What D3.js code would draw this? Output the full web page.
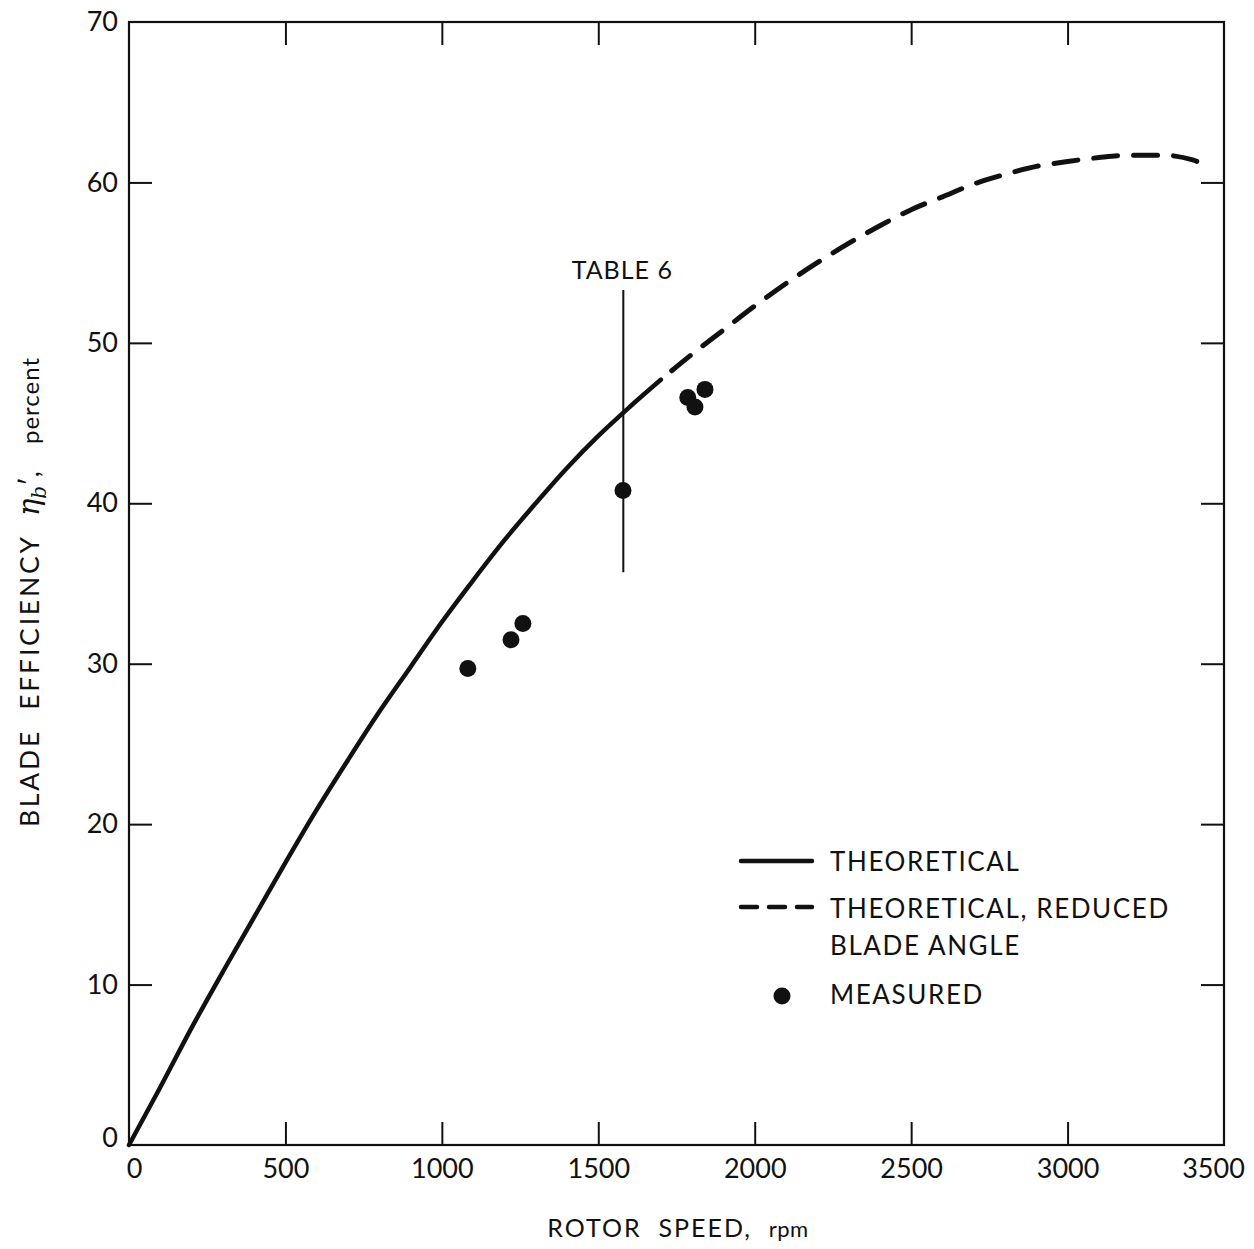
<!DOCTYPE html>
<html>
<head>
<meta charset="utf-8">
<script src="https://cdn.jsdelivr.net/npm/d3@7"></script>
<style>
  html, body { margin: 0; padding: 0; background: #fff; }
  svg { display: block; }
  text { font-family: Lato, "Open Sans", sans-serif; fill: #111; white-space: pre; }
</style>
</head>
<body>
<svg id="chart" width="1254" height="1249"></svg>
<script>
// ---- data ----
const xTicks = [0, 500, 1000, 1500, 2000, 2500, 3000, 3500];
const yTicks = [0, 10, 20, 30, 40, 50, 60, 70];

const theoRpm = [0, 100, 200, 300, 400, 500, 600, 700, 800, 900, 1000, 1100, 1200, 1300, 1400, 1500, 1600, 1700];
const theoEff = [0, 3.6, 7.3, 10.8, 14.2, 17.6, 20.9, 24.0, 27.0, 29.8, 32.6, 35.2, 37.7, 40.0, 42.2, 44.2, 46.0, 47.7];

const reducedRpm = [1700, 1800, 1900, 2000, 2100, 2200, 2300, 2400, 2500, 2600, 2700, 2800, 2900, 3000, 3100, 3200, 3300, 3400, 3440];
const reducedEff = [47.7, 49.3, 50.8, 52.3, 53.7, 55.0, 56.2, 57.3, 58.3, 59.1, 59.9, 60.5, 61.0, 61.3, 61.55, 61.7, 61.7, 61.4, 61.1];

const measRpm = [1083, 1221, 1259, 1579, 1786, 1809, 1841];
const measEff = [29.7, 31.5, 32.5, 40.8, 46.6, 46.0, 47.1];

const table6Rpm = 1580;
const table6Range = [35.7, 53.3];

// ---- layout ----
const svg = d3.select("#chart");
const x = d3.scaleLinear().domain([0, 3500]).range([129, 1224]);
const y = d3.scaleLinear().domain([0, 70]).range([1145, 22]);
const tickLen = 23;

// frame
svg.append("rect")
  .attr("x", x(0)).attr("y", y(70))
  .attr("width", x(3500) - x(0)).attr("height", y(0) - y(70))
  .attr("fill", "none").attr("stroke", "#111").attr("stroke-width", 2.2);

// axes with inward ticks
const fontTick = 27;
const bottomAxis = d3.axisBottom(x).tickValues(xTicks).tickSize(-tickLen).tickPadding(14).tickFormat(d3.format("d"));
const topAxis = d3.axisTop(x).tickValues(xTicks.slice(1, -1)).tickSize(-tickLen).tickFormat("");
const leftAxis = d3.axisLeft(y).tickValues(yTicks).tickSize(-tickLen).tickPadding(11).tickFormat(d3.format("d"));
const rightAxis = d3.axisRight(y).tickValues(yTicks.slice(1, -1)).tickSize(-tickLen).tickFormat("");

function style(g) {
  g.select(".domain").remove();
  g.selectAll(".tick line").attr("stroke", "#111").attr("stroke-width", 2);
  g.selectAll(".tick text").attr("font-size", fontTick).attr("fill", "#111")
    .style("font-family", "Lato, 'Open Sans', sans-serif");
}
const gB = svg.append("g").attr("transform", `translate(0,${y(0)})`).call(bottomAxis).call(style);
gB.selectAll(".tick line").filter(d => d === 0 || d === 3500).remove();
gB.selectAll(".tick text").filter(d => d === 3500).attr("dx", -11);
gB.selectAll(".tick text").filter(d => d === 0).attr("dx", 5);
const gL = svg.append("g").attr("transform", `translate(${x(0)},0)`).call(leftAxis).call(style);
gL.selectAll(".tick line").filter(d => d === 0 || d === 70).remove();
gL.selectAll(".tick text").filter(d => d === 0).attr("dy", "0.05em");
svg.append("g").attr("transform", `translate(0,${y(70)})`).call(topAxis).call(style);
svg.append("g").attr("transform", `translate(${x(3500)},0)`).call(rightAxis).call(style);

// curves
const line = d3.line().x(d => x(d[0])).y(d => y(d[1])).curve(d3.curveMonotoneX);
svg.append("path")
  .datum(theoRpm.map((r, i) => [r, theoEff[i]]))
  .attr("d", line).attr("fill", "none").attr("stroke", "#111")
  .attr("stroke-width", 4.5).attr("stroke-linecap", "round");
svg.append("path")
  .datum(reducedRpm.map((r, i) => [r, reducedEff[i]]))
  .attr("d", line).attr("fill", "none").attr("stroke", "#111")
  .attr("stroke-width", 5).attr("stroke-linecap", "round")
  .attr("stroke-dasharray", "24 16").attr("stroke-dashoffset", -14);

// TABLE 6 marker line
svg.append("line")
  .attr("x1", x(table6Rpm)).attr("x2", x(table6Rpm))
  .attr("y1", y(table6Range[1])).attr("y2", y(table6Range[0]))
  .attr("stroke", "#111").attr("stroke-width", 2);
svg.append("text")
  .attr("x", x(table6Rpm) - 1).attr("y", y(table6Range[1]) - 11)
  .attr("text-anchor", "middle").attr("font-size", 25)
  .style("letter-spacing", "1px")
  .text("TABLE 6");

// measured points
svg.append("g").selectAll("circle")
  .data(measRpm.map((r, i) => [r, measEff[i]]))
  .join("circle")
  .attr("cx", d => x(d[0])).attr("cy", d => y(d[1]))
  .attr("r", 8.5).attr("fill", "#111");

// legend
const lg = svg.append("g");
const legFs = 26;
lg.append("line").attr("x1", 741).attr("x2", 812).attr("y1", 861).attr("y2", 861)
  .attr("stroke", "#111").attr("stroke-width", 4.5).attr("stroke-linecap", "round");
lg.append("text").attr("x", 830).attr("y", 871).attr("font-size", legFs)
  .style("letter-spacing", "1.6px").text("THEORETICAL");
lg.append("line").attr("x1", 741).attr("x2", 812).attr("y1", 907).attr("y2", 907)
  .attr("stroke", "#111").attr("stroke-width", 4.5).attr("stroke-linecap", "round")
  .attr("stroke-dasharray", "16 12");
lg.append("text").attr("x", 830).attr("y", 918).attr("font-size", legFs)
  .style("letter-spacing", "1.6px").text("THEORETICAL, REDUCED");
lg.append("text").attr("x", 830).attr("y", 955).attr("font-size", legFs)
  .style("letter-spacing", "1.6px").text("BLADE ANGLE");
lg.append("circle").attr("cx", 782).attr("cy", 996).attr("r", 8.5).attr("fill", "#111");
lg.append("text").attr("x", 830).attr("y", 1004).attr("font-size", legFs)
  .style("letter-spacing", "1.6px").text("MEASURED");

// x axis title
const xt = svg.append("text").attr("x", 678).attr("y", 1237).attr("text-anchor", "middle")
  .attr("font-size", 25).style("letter-spacing", "2px");
xt.append("tspan").text("ROTOR  SPEED,  ");
xt.append("tspan").attr("font-size", 22).style("letter-spacing", "0.5px").text("rpm");

// y axis title
const yt = svg.append("text").attr("transform", "translate(39,592) rotate(-90)")
  .attr("text-anchor", "middle").attr("font-size", 26.5).style("letter-spacing", "2.8px");
yt.append("tspan").text("BLADE  EFFICIENCY  ");
yt.append("tspan").attr("font-style", "italic").attr("font-family", "'DejaVu Serif', serif")
  .attr("font-size", 29).style("letter-spacing", "0px").text("η");
yt.append("tspan").attr("font-style", "italic").attr("font-family", "'DejaVu Serif', serif")
  .attr("font-size", 20).attr("dy", 7).style("letter-spacing", "0px").text("b");
yt.append("tspan").attr("dy", -7).style("letter-spacing", "0px").text("′,    ");
yt.append("tspan").attr("font-size", 24).style("letter-spacing", "1px").text("percent");
</script>
</body>
</html>
